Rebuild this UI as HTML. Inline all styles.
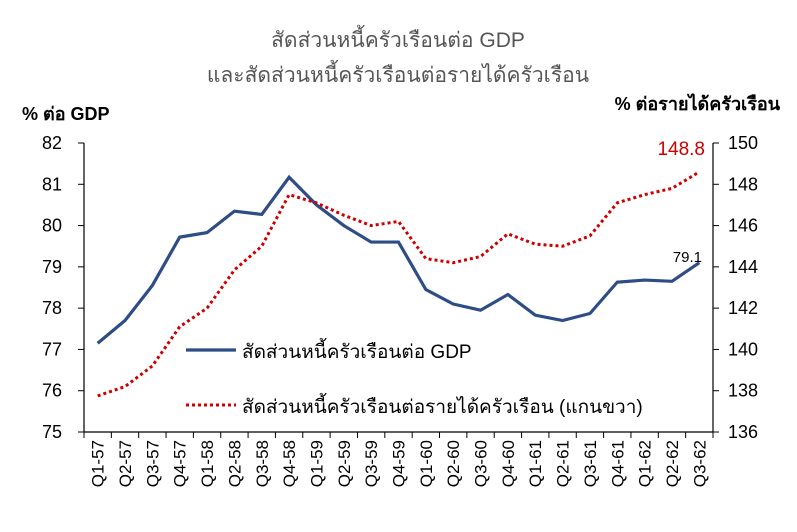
<!DOCTYPE html>
<html><head><meta charset="utf-8"><style>
body{margin:0;background:#fff;}
svg text{font-family:"Liberation Sans","Noto Sans CJK SC",sans-serif;}
</style></head><body>
<svg width="797" height="527" xmlns="http://www.w3.org/2000/svg">
<rect width="797" height="527" fill="#fff"/>
<text x="398" y="47" font-size="21" fill="#555" text-anchor="middle" font-weight="500">สัดส่วนหนี้ครัวเรือนต่อ GDP</text>
<text x="398" y="82" font-size="21" fill="#555" text-anchor="middle">และสัดส่วนหนี้ครัวเรือนต่อรายได้ครัวเรือน</text>
<text x="22" y="120" font-size="18" fill="#000" font-weight="bold">% ต่อ GDP</text>
<text x="780" y="110" font-size="18" fill="#000" text-anchor="end" font-weight="bold">% ต่อรายได้ครัวเรือน</text>
<g stroke="#000" stroke-width="1.2">
<line x1="84" y1="143" x2="84" y2="432"/>
<line x1="713" y1="143" x2="713" y2="432"/>
<line x1="84" y1="432" x2="713" y2="432"/>
</g>
<g id="ticks" stroke="#000" stroke-width="1"></g>
<g font-size="18" fill="#000" id="ylab"></g>
<g font-size="17" fill="#000" id="xlab"></g>
<polyline id="blue" fill="none" stroke="#2e4d86" stroke-width="3.2"/>
<polyline id="red" fill="none" stroke="#cc0000" stroke-width="3" stroke-dasharray="3,3"/>
<text x="705" y="155" font-size="19" fill="#cc0000" text-anchor="end">148.8</text>
<text x="702" y="262" font-size="15" fill="#000" text-anchor="end">79.1</text>
<line x1="186" y1="350" x2="236" y2="350" stroke="#2e4d86" stroke-width="3.2"/>
<text x="242" y="358" font-size="19" fill="#000">สัดส่วนหนี้ครัวเรือนต่อ GDP</text>
<line x1="186" y1="405" x2="236" y2="405" stroke="#cc0000" stroke-width="3" stroke-dasharray="3,3"/>
<text x="242" y="413" font-size="19" fill="#000">สัดส่วนหนี้ครัวเรือนต่อรายได้ครัวเรือน (แกนขวา)</text>
</svg>
<script>
const ns="http://www.w3.org/2000/svg";
const x0=84,x1=713,n=23,step=(x1-x0)/n;
const X=i=>x0+step*(i+0.5);
const yL=v=>143+(82-v)*289/7;
const yR=v=>143+(150-v)*289/14;
const b=[77.15,77.7,78.55,79.72,79.83,80.35,80.27,81.17,80.5,80.0,79.6,79.6,78.45,78.1,77.95,78.33,77.83,77.7,77.87,78.63,78.68,78.65,79.1];
const r=[137.75,138.2,139.2,141.1,142,143.85,145,147.5,147.1,146.5,146,146.2,144.4,144.2,144.5,145.6,145.1,145,145.5,147.1,147.5,147.8,148.6];
document.getElementById('blue').setAttribute('points',b.map((v,i)=>X(i)+','+yL(v)).join(' '));
document.getElementById('red').setAttribute('points',r.map((v,i)=>X(i)+','+yR(v)).join(' '));
const t=document.getElementById('ticks'),yl=document.getElementById('ylab'),xl=document.getElementById('xlab');
function el(tag,a,p,txt){const e=document.createElementNS(ns,tag);for(const k in a)e.setAttribute(k,a[k]);if(txt)e.textContent=txt;p.appendChild(e);}
for(let v=75;v<=82;v++){const y=yL(v);el('line',{x1:78,x2:84,y1:y,y2:y},t);el('text',{x:62,y:y+6,'text-anchor':'end'},yl,v);}
for(let v=136;v<=150;v+=2){const y=yR(v);el('line',{x1:713,x2:719,y1:y,y2:y},t);el('text',{x:728,y:y+6},yl,v);}
for(let i=0;i<=n;i++){const x=x0+step*i;el('line',{x1:x,x2:x,y1:432,y2:438},t);}
const labs=[];for(let yr=57;yr<=62;yr++)for(let q=1;q<=4;q++)labs.push('Q'+q+'-'+yr);
for(let i=0;i<n;i++){const x=X(i)+6;el('text',{x:x,y:440,'text-anchor':'end',transform:`rotate(-90 ${x} 440)`},xl,labs[i]);}
</script>
</body></html>
